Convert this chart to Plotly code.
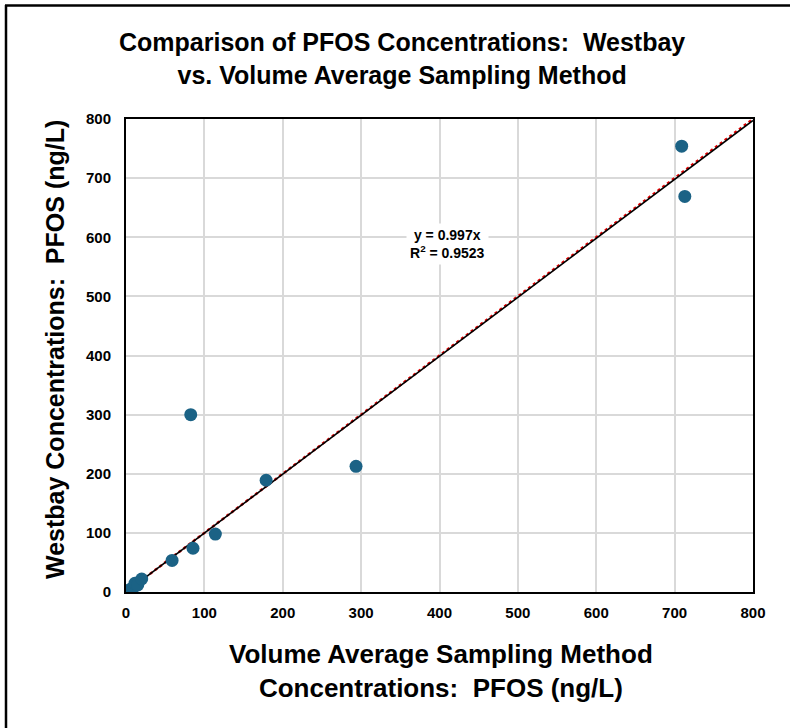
import plotly.graph_objects as go

# Data (ng/L)
volume_avg = [1.7, 5, 9, 11.4, 15, 20, 58.8, 85.5, 114, 178.8, 293.5, 82.6, 709, 713]
westbay    = [1.7, 4, 7, 14.7, 12, 22, 53.4, 74, 98, 189, 212.5, 300, 754, 669]

slope = 0.997
r2 = 0.9523
axis_max = 800
ticks = [0, 100, 200, 300, 400, 500, 600, 700, 800]

W, H = 790, 728
L, T = 126, 119
pw, ph = 627, 473
R = W - L - pw
B = H - T - ph

def px(xs):
    return (xs - L) / pw

def py(ys):
    return (T + ph - ys) / ph

fig = go.Figure()

line_x = [0, axis_max]
fig.add_trace(go.Scatter(x=line_x, y=[v for v in line_x], mode="lines",
                         line=dict(color="#e00000", width=2.5, dash="dot"),
                         hoverinfo="skip", showlegend=False))
fig.add_trace(go.Scatter(x=line_x, y=[slope * v for v in line_x], mode="lines",
                         line=dict(color="black", width=1.6),
                         hoverinfo="skip", showlegend=False))
fig.add_trace(go.Scatter(x=volume_avg, y=westbay, mode="markers",
                         marker=dict(color="#1b6285", size=13),
                         showlegend=False))

tickfont = dict(family="Liberation Sans, Arial", size=15, color="#000000", weight="bold")
axis_common = dict(range=[0, axis_max], tickvals=ticks, showgrid=True,
                   gridcolor="#d9d9d9", gridwidth=1.5, zeroline=False,
                   showline=True, linecolor="black", linewidth=2, mirror=True,
                   ticks="", tickfont=tickfont, fixedrange=True)

fig.update_layout(
    width=W, height=H,
    margin=dict(l=L, r=R, t=T, b=B),
    paper_bgcolor="white", plot_bgcolor="white",
    xaxis=dict(**axis_common, ticklabelstandoff=6),
    yaxis=dict(**axis_common, ticklabelstandoff=10),
    showlegend=False,
)

cond = "Liberation Sans Narrow, Arial Narrow, sans-serif"
fig.add_annotation(text="Comparison of PFOS Concentrations:  Westbay<br>vs. Volume Average Sampling Method",
                   xref="paper", yref="paper", x=px(402), y=py(58),
                   xanchor="center", yanchor="middle", showarrow=False,
                   font=dict(family=cond, size=25, color="black", weight="bold"))
fig.add_annotation(text="Volume Average Sampling Method<br>Concentrations:  PFOS (ng/L)",
                   xref="paper", yref="paper", x=px(441), y=py(671),
                   xanchor="center", yanchor="middle", showarrow=False,
                   font=dict(family=cond, size=26, color="black", weight="bold"))
fig.add_annotation(text="Westbay Concentrations:  PFOS (ng/L)",
                   xref="paper", yref="paper", x=px(55), y=py(350),
                   xanchor="center", yanchor="middle", showarrow=False, textangle=-90,
                   font=dict(family="Liberation Sans, Arial", size=25, color="black", weight="bold"))
fig.add_annotation(text=f"y = {slope}x<br>R<sup>2</sup> = {r2}",
                   xref="paper", yref="paper", x=px(447), y=py(244),
                   xanchor="center", yanchor="middle", showarrow=False,
                   bgcolor="white", borderpad=3,
                   font=dict(family="Liberation Sans, Arial", size=14, color="black", weight="bold"))

# outer frame (left and top edges visible in the reference)
fig.add_shape(type="line", xref="paper", yref="paper",
              x0=px(6), x1=px(6), y0=py(5), y1=py(730),
              line=dict(color="black", width=2.5), layer="above")
fig.add_shape(type="line", xref="paper", yref="paper",
              x0=px(5), x1=px(792), y0=py(5.5), y1=py(5.5),
              line=dict(color="black", width=2.5), layer="above")

fig.write_html("out.html", post_script="document.body.style.margin='0';",
               config={"displayModeBar": False})
